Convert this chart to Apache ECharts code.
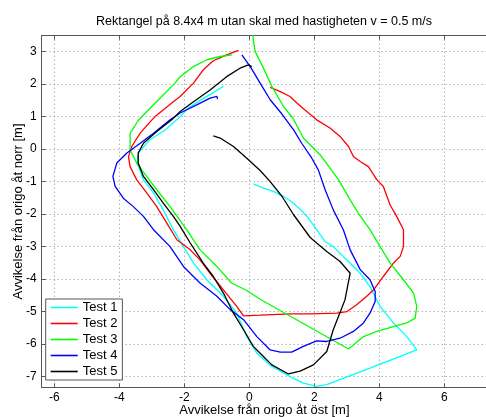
<!DOCTYPE html>
<html><head><meta charset="utf-8">
<script src="https://cdn.jsdelivr.net/npm/echarts@6/dist/echarts.min.js"></script>
<style>html,body{margin:0;padding:0;background:#fff}#c{width:486px;height:417px}</style>
</head><body><div id="c"></div>
<script>
const titleText = 'Rektangel på 8.4x4 m utan skal med hastigheten v = 0.5 m/s';
const xName = 'Avvikelse från origo åt öst [m]';
const yName = 'Avvikelse från origo åt norr [m]';
const xTicks = [-6, -4, -2, 0, 2, 4, 6];
const yTicks = [-7, -6, -5, -4, -3, -2, -1, 0, 1, 2, 3];
const seriesNames = ['Test 1', 'Test 2', 'Test 3', 'Test 4', 'Test 5'];
const seriesColors = ['#00ffff', '#ff0000', '#00ff00', '#0000ff', '#000000'];

const test1 = [[0.12,-1.07],[0.43,-1.2],[0.74,-1.3],[1.05,-1.46],[1.3,-1.62],[1.56,-1.85],[1.8,-2.1],[2.07,-2.48],[2.33,-2.85],[2.58,-3.0],[3.0,-3.41],[3.41,-3.82],[3.71,-4.23],[4.02,-4.84],[4.43,-5.35],[4.84,-5.77],[5.15,-6.18],[3.71,-6.74],[2.38,-7.25],[2.07,-7.3],[1.66,-7.2],[1.25,-7.0],[0.69,-6.69],[0.23,-6.28],[-0.08,-5.77],[-0.39,-5.05],[-0.8,-4.53],[-1.31,-4.02],[-1.72,-3.51],[-2.03,-3.0],[-2.34,-2.48],[-2.65,-1.87],[-2.95,-1.35],[-3.26,-0.94],[-3.45,-0.43],[-3.42,-0.12],[-3.06,0.29],[-2.59,0.59],[-2.13,1.0],[-1.88,1.26],[-1.52,1.5],[-1.11,1.74],[-0.8,1.93]];
const test2 = [[-0.34,3.04],[-0.7,2.9],[-1.11,2.72],[-1.42,2.44],[-1.72,2.03],[-2.13,1.62],[-2.39,1.42],[-2.9,1.0],[-3.0,0.9],[-3.36,0.49],[-3.62,0.08],[-3.72,-0.23],[-3.67,-0.54],[-3.47,-0.94],[-3.16,-1.35],[-2.85,-1.77],[-2.54,-2.28],[-2.23,-2.79],[-1.82,-3.1],[-1.52,-3.41],[-1.21,-3.82],[-0.8,-4.33],[-0.39,-4.84],[-0.18,-5.13],[0.33,-5.11],[1.25,-5.07],[1.87,-5.07],[2.69,-5.05],[3.0,-5.0],[3.3,-4.79],[3.61,-4.53],[3.82,-4.33],[4.12,-3.92],[4.43,-3.51],[4.64,-3.3],[4.74,-3.0],[4.74,-2.48],[4.53,-2.07],[4.33,-1.72],[4.12,-1.15],[3.92,-0.94],[3.66,-0.54],[3.41,-0.38],[3.2,-0.23],[3.05,0.08],[2.79,0.39],[2.48,0.65],[2.07,0.9],[1.82,1.11],[1.46,1.42],[1.25,1.62],[0.95,1.77],[0.64,1.9]];
const test3 = [[0.1,3.7],[0.12,3.36],[0.18,3.0],[0.43,2.5],[0.69,1.93],[1.05,1.31],[1.34,0.95],[1.66,0.34],[2.18,-0.18],[2.74,-0.94],[3.1,-1.56],[3.35,-1.97],[3.71,-2.48],[4.02,-3.0],[4.33,-3.51],[4.74,-4.02],[5.05,-4.43],[5.15,-4.84],[5.1,-5.2],[4.84,-5.35],[4.43,-5.46],[3.92,-5.61],[3.51,-5.77],[3.05,-6.15],[0.33,-4.62],[-0.08,-4.35],[-0.55,-4.12],[-1.0,-3.61],[-1.52,-3.1],[-1.93,-2.48],[-2.44,-1.77],[-2.85,-1.25],[-3.16,-0.84],[-3.47,-0.43],[-3.67,-0.02],[-3.67,0.49],[-3.42,0.88],[-3.26,1.05],[-2.8,1.52],[-2.29,2.03],[-2.13,2.23],[-1.72,2.54],[-1.31,2.75],[-0.9,2.85],[-0.54,2.9]];
const test4 = [[-0.98,1.54],[-1.0,1.62],[-1.21,1.57],[-1.62,1.36],[-2.13,1.11],[-2.44,0.9],[-2.95,0.49],[-3.36,0.18],[-3.77,-0.12],[-4.08,-0.43],[-4.2,-0.84],[-4.13,-1.15],[-3.88,-1.51],[-3.57,-1.77],[-3.26,-2.07],[-2.95,-2.48],[-2.44,-3.0],[-2.03,-3.61],[-1.52,-4.12],[-1.0,-4.53],[-0.59,-4.94],[-0.18,-5.25],[0.23,-5.77],[0.64,-6.18],[0.95,-6.25],[1.3,-6.25],[1.66,-6.07],[2.07,-5.9],[2.38,-5.92],[2.79,-5.82],[3.2,-5.61],[3.51,-5.35],[3.71,-5.05],[3.87,-4.69],[3.87,-4.38],[3.71,-4.02],[3.41,-3.71],[3.1,-3.1],[2.89,-2.48],[2.58,-1.87],[2.33,-1.25],[2.12,-0.64],[1.92,-0.28],[1.61,0.18],[1.36,0.59],[1.0,1.08],[0.64,1.52],[0.33,2.03],[0.05,2.5],[-0.23,2.9]];
const test5 = [[-1.11,0.41],[-0.9,0.34],[-0.49,0.08],[-0.08,-0.28],[0.33,-0.66],[0.64,-1.0],[1.0,-1.45],[1.36,-2.02],[1.87,-2.72],[2.38,-3.15],[2.79,-3.46],[3.1,-3.82],[2.94,-4.64],[2.74,-5.15],[2.58,-5.56],[2.38,-6.23],[1.97,-6.64],[1.56,-6.83],[1.2,-6.92],[0.69,-6.64],[0.33,-6.28],[0.12,-6.07],[-0.18,-5.56],[-0.49,-5.05],[-0.8,-4.43],[-1.11,-3.92],[-1.42,-3.51],[-1.82,-2.89],[-2.13,-2.38],[-2.34,-2.07],[-2.65,-1.66],[-2.95,-1.25],[-3.26,-0.84],[-3.42,-0.43],[-3.42,-0.12],[-3.26,0.18],[-2.85,0.54],[-2.39,0.9],[-2.13,1.16],[-1.72,1.46],[-1.21,1.82],[-0.7,2.23],[-0.29,2.49],[-0.03,2.59],[0.07,2.54]];
const allTests = [test1, test2, test3, test4, test5];

const FONT = 'Liberation Sans, Arial, Helvetica, sans-serif';
const chart = echarts.init(document.getElementById('c'), null, {renderer: 'canvas'});
const axisColor = '#555';
const gridLine = {show: true, lineStyle: {color: '#8f8f8f', type: [1, 3], width: 1}};
const lineIcon = 'path://M0,0 L27,0 L27,1.6 L0,1.6 Z';

chart.setOption({
  backgroundColor: '#fff',
  animation: false,
  graphic: [{
    type: 'text', x: 264, y: 22,
    style: {text: titleText, fill: '#000', font: '12.5px ' + FONT, textAlign: 'center', textVerticalAlign: 'middle'}
  }],
  grid: {left: 41.7, top: 35.7, right: -1, bottom: 417 - 387.3, containLabel: false, outerBoundsMode: 'none'},
  legend: {
    orient: 'vertical', left: 45.7, top: 299,
    data: seriesNames.map(n => ({name: n, icon: lineIcon})),
    itemWidth: 27, itemHeight: 14, itemGap: 3,
    symbolKeepAspect: true,
    padding: [2, 5, 2, 5],
    backgroundColor: '#fff', borderColor: '#555', borderWidth: 1, borderRadius: 0,
    textStyle: {fontFamily: FONT, fontSize: 13, color: '#000'}
  },
  xAxis: [{
    type: 'value', min: -6.39, max: 7.31, position: 'bottom',
    name: xName, nameLocation: 'middle', nameGap: 17, nameMoveOverlap: false,
    nameTextStyle: {fontFamily: FONT, fontSize: 13, color: '#000'},
    axisLine: {show: true, onZero: false, lineStyle: {color: axisColor}},
    axisTick: {show: true, inside: true, length: 4, customValues: xTicks, lineStyle: {color: axisColor}},
    axisLabel: {show: true, customValues: xTicks, margin: 4, fontFamily: FONT, fontSize: 12, color: '#000'},
    splitLine: gridLine
  }, {
    type: 'value', min: -6.39, max: 7.31, position: 'top',
    axisLine: {show: true, onZero: false, lineStyle: {color: axisColor}},
    axisTick: {show: true, inside: true, length: 4, customValues: xTicks, lineStyle: {color: axisColor}},
    axisLabel: {show: false},
    splitLine: {show: false}
  }],
  yAxis: [{
    type: 'value', min: -7.33, max: 3.49, position: 'left',
    name: yName, nameLocation: 'middle', nameGap: 17, nameRotate: 90, nameMoveOverlap: false,
    nameTextStyle: {fontFamily: FONT, fontSize: 13, color: '#000'},
    axisLine: {show: true, onZero: false, lineStyle: {color: axisColor}},
    axisTick: {show: true, inside: true, length: 4, customValues: yTicks, lineStyle: {color: axisColor}},
    axisLabel: {show: true, customValues: yTicks, margin: 5, fontFamily: FONT, fontSize: 12, color: '#000'},
    splitLine: gridLine
  }],
  series: allTests.map((d, i) => ({
    name: seriesNames[i], type: 'line', data: d,
    xAxisIndex: 0, yAxisIndex: 0,
    showSymbol: false, symbol: 'none', smooth: false, clip: true,
    lineStyle: {color: seriesColors[i], width: 1.3},
    itemStyle: {color: seriesColors[i]},
    emphasis: {disabled: true}
  }))
});
</script>
</body></html>
